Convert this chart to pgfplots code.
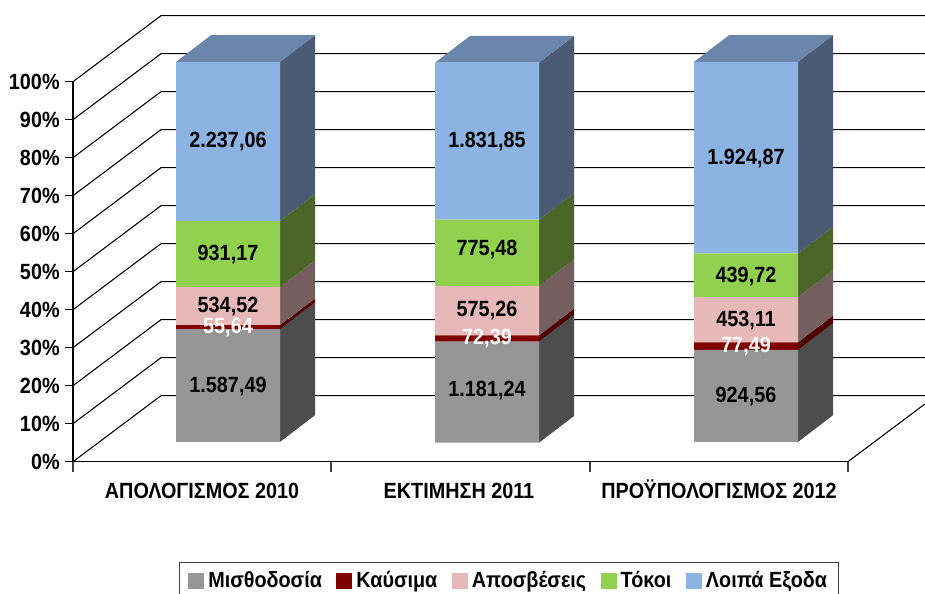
\documentclass[border=0pt]{standalone}
\usepackage{pgfplots}
\pgfplotsset{compat=1.18}
\usepackage{fontspec}
\setmainfont[FakeStretch=0.9]{Liberation Sans}
\definecolor{cGrey}{HTML}{969696}\definecolor{cGreyS}{HTML}{4D4D4D}
\definecolor{cRed}{HTML}{800000}\definecolor{cRedS}{HTML}{4D0000}
\definecolor{cPink}{HTML}{E6B8B7}\definecolor{cPinkS}{HTML}{745F5E}
\definecolor{cGreen}{HTML}{92D050}\definecolor{cGreenS}{HTML}{4C6629}
\definecolor{cBlue}{HTML}{8DB3E2}\definecolor{cBlueS}{HTML}{4A5B73}
\definecolor{cBlueT}{HTML}{6B86AB}
\pgfplotsset{frame/.style={
  scale only axis, width=581.25pt, height=285pt,
  at={(54.75pt,98.475pt)}, anchor=south west,
  xmin=73, xmax=848, ymin=0, ymax=100, clip=false}}
\pgfplotstableread{
x base grey red pink green blue
228 5.2 29.696 1.041 9.999 17.419 41.846
487 5.0 26.627 1.632 12.967 17.481 41.293
746 5.2 24.205 2.029 11.862 11.512 50.393
}\stacks
\begin{document}
\begin{tikzpicture}[x=1pt,y=1pt]
\useasboundingbox (0,0) rectangle (693.75pt,444.75pt);
% frame and 3D side faces
\begin{axis}[frame,
  axis x line*=bottom, axis y line*=left,
  axis line style={black,line width=0.9pt},
  xtick={202,459,719},
  xticklabels={ΑΠΟΛΟΓΙΣΜΟΣ 2010,ΕΚΤΙΜΗΣΗ 2011,ΠΡΟΫΠΟΛΟΓΙΣΜΟΣ 2012},
  minor xtick={73,331,590,848},
  ytick={0,10,...,100},
  yticklabel={\pgfmathprintnumber{\tick}\%},
  /pgf/number format/assume math mode=true,
  tick align=outside, tick pos=left,
  ytick style={black,line width=0.8pt},
  xtick style={draw=none},
  minor tick length=7.5pt,
  minor x tick style={draw=black!75,line width=0.9pt},
  major tick length=6pt,
  tick label style={font=\bfseries\fontsize{16.5}{18}\selectfont},
  xticklabel style={yshift=-6pt,text height=12pt,text depth=3pt},
  yticklabel style={xshift=-0.5pt},
]
\foreach \p/\q in {0/17.37,10/27.37,20/37.37,30/47.37,40/57.37,50/67.37,60/77.37,70/87.37,80/97.37,90/107.37,100/117.37}{
  \edef\tmp{\noexpand\addplot[black,line width=0.8pt] coordinates {(73,\p) (161,\q) (925,\q)};}\tmp
}
\addplot[black,line width=0.8pt] coordinates {(848,0) (925,15.2)};
% bar 1 sides
\addplot[fill=cGreyS,draw=none] coordinates {(280,5.2) (315,12.23) (315,41.926) (280,34.896)} -- cycle;
\addplot[fill=cRedS,draw=none] coordinates {(280,34.896) (315,41.926) (315,42.967) (280,35.937)} -- cycle;
\addplot[fill=cPinkS,draw=none] coordinates {(280,35.937) (315,42.967) (315,52.966) (280,45.936)} -- cycle;
\addplot[fill=cGreenS,draw=none] coordinates {(280,45.936) (315,52.966) (315,70.385) (280,63.355)} -- cycle;
\addplot[fill=cBlueS,draw=none] coordinates {(280,63.355) (315,70.385) (315,112.23) (280,105.2)} -- cycle;
\addplot[fill=cBlueT,draw=none] coordinates {(176,105.2) (280,105.2) (315,112.23) (211,112.23)} -- cycle;
% bar 2 sides
\addplot[fill=cGreyS,draw=none] coordinates {(539,5.0) (574,12.03) (574,38.657) (539,31.627)} -- cycle;
\addplot[fill=cRedS,draw=none] coordinates {(539,31.627) (574,38.657) (574,40.289) (539,33.259)} -- cycle;
\addplot[fill=cPinkS,draw=none] coordinates {(539,33.259) (574,40.289) (574,53.256) (539,46.226)} -- cycle;
\addplot[fill=cGreenS,draw=none] coordinates {(539,46.226) (574,53.256) (574,70.737) (539,63.707)} -- cycle;
\addplot[fill=cBlueS,draw=none] coordinates {(539,63.707) (574,70.737) (574,112.03) (539,105.0)} -- cycle;
\addplot[fill=cBlueT,draw=none] coordinates {(435,105.0) (539,105.0) (574,112.03) (470,112.03)} -- cycle;
% bar 3 sides
\addplot[fill=cGreyS,draw=none] coordinates {(798,5.2) (833,12.23) (833,36.435) (798,29.405)} -- cycle;
\addplot[fill=cRedS,draw=none] coordinates {(798,29.405) (833,36.435) (833,38.464) (798,31.434)} -- cycle;
\addplot[fill=cPinkS,draw=none] coordinates {(798,31.434) (833,38.464) (833,50.326) (798,43.296)} -- cycle;
\addplot[fill=cGreenS,draw=none] coordinates {(798,43.296) (833,50.326) (833,61.838) (798,54.808)} -- cycle;
\addplot[fill=cBlueS,draw=none] coordinates {(798,54.808) (833,61.838) (833,112.23) (798,105.2)} -- cycle;
\addplot[fill=cBlueT,draw=none] coordinates {(694,105.2) (798,105.2) (833,112.23) (729,112.23)} -- cycle;
\end{axis}
% stacked front faces
\begin{axis}[frame, hide axis, ybar stacked, bar width=104,
  legend columns=5,
  legend style={at={(0.1368,-0.263)},anchor=north west,
    draw=black!75,line width=0.9pt,fill=white,
    inner xsep=6.5pt,inner ysep=5pt,
    font=\bfseries\fontsize{16.5}{18}\selectfont,
    /tikz/every odd column/.style={column sep=1pt},
    /tikz/every even column/.style={column sep=8.9pt},
    cells={anchor=west,inner ysep=0pt}},
  legend image code/.code={\fill[#1,draw=none] (0pt,-6pt) rectangle (12pt,6pt);},
]
\addplot[draw=none,fill=none,forget plot] table[x=x,y=base] {\stacks};
\addplot[draw=none,fill=cGrey] table[x=x,y=grey] {\stacks};
\addplot[draw=none,fill=cRed] table[x=x,y=red] {\stacks};
\addplot[draw=none,fill=cPink] table[x=x,y=pink] {\stacks};
\addplot[draw=none,fill=cGreen] table[x=x,y=green] {\stacks};
\addplot[draw=none,fill=cBlue] table[x=x,y=blue] {\stacks};
\legend{Μισθοδοσία,Καύσιμα,Αποσβέσεις,Τόκοι,Λοιπά Εξοδα}
\end{axis}
% value labels
\begin{axis}[frame, hide axis,
  nodes near coords, point meta=explicit symbolic,
  every node near coord/.append style={anchor=center,inner sep=0pt,yshift=-1.2pt,
    font=\bfseries\fontsize{16.5}{18}\selectfont}]
\addplot[only marks,mark=none,draw=none,text=black] table[x=x,y=y,meta=label] {
x y label
228 84.66 2.237,06
228 54.9 931,17
228 41.2 534,52
228 20.2 1.587,49
487 84.66 1.831,85
487 56.2 775,48
487 40.2 575,26
487 19.1 1.181,24
746 80.2 1.924,87
746 49.1 439,72
746 37.6 453,11
746 17.5 924,56
};
\addplot[only marks,mark=none,draw=none,nodes near coords style={text=white}] table[x=x,y=y,meta=label] {
x y label
228 35.7 55,64
487 32.8 72,39
746 30.7 77,49
};
\end{axis}
\end{tikzpicture}
\end{document}
